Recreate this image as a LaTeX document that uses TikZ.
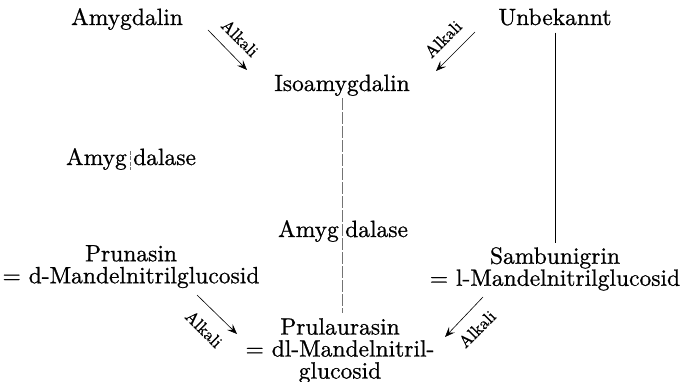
\documentclass[tikz,border=0pt]{standalone}
\usepackage{fontspec}
\newfontfamily\heavy{lmroman10-regular.otf}[FakeBold=0.8]
\usetikzlibrary{arrows.meta}
\begin{document}
\begin{tikzpicture}[x=1pt,y=-1pt,
  txt/.style={inner sep=0pt, font=\heavy\fontsize{23.5}{22}\selectfont},
  alk/.style={inner sep=0pt, font=\heavy\fontsize{17}{18}\selectfont},
  rx/.style={line width=0.6pt, -{Stealth[length=10pt,width=8pt,inset=4pt]}},
  link/.style={line width=0.6pt},
  faint/.style={line width=0.5pt, black!55, dash pattern=on 12pt off 2pt}]
\useasboundingbox (0,0) rectangle (680,382);

% substances
\node[txt,anchor=base] (amy) at (127,25) {Amygdalin};
\node[txt,anchor=base] (unb) at (555,25) {Unbekannt};
\node[txt,anchor=base] (iso) at (342,91) {Isoamygdalin};
\node[txt,anchor=base east] (e1a) at (127,165) {Amyg};
\node[txt,anchor=base west] (e1b) at (133,165) {dalase};
\node[txt,anchor=base east] (e2a) at (339,237) {Amyg};
\node[txt,anchor=base west] (e2b) at (345,237) {dalase};
\node[txt,anchor=north,align=center] (pru) at (131,245) {Prunasin\\= d-Mandelnitrilglucosid};
\node[txt,anchor=north,align=center] (sam) at (555,247) {Sambunigrin\\= l-Mandelnitrilglucosid};
\node[txt,anchor=north,align=center] (prl) at (340,318) {Prulaurasin\\= dl-Mandelnitril-\\glucosid};

% reaction arrows
\coordinate (a1s) at (208,30);  \coordinate (a1e) at (247,70);
\coordinate (a2s) at (475,32);  \coordinate (a2e) at (436,71);
\coordinate (a3s) at (197,295); \coordinate (a3e) at (237,334);
\coordinate (a4s) at (483,297); \coordinate (a4e) at (445,337);
\draw[rx] (a1s) -- (a1e);
\draw[rx] (a2s) -- (a2e);
\draw[rx] (a3s) -- (a3e);
\draw[rx] (a4s) -- (a4e);
\node[alk,rotate=-45] (k1) at (240,38) {Alkali};
\node[alk,rotate=45]  (k2) at (443,39) {Alkali};
\node[alk,rotate=-45] (k3) at (204,329) {Alkali};
\node[alk,rotate=45]  (k4) at (477,329) {Alkali};

% enzyme lines
\coordinate (t1a) at (130,151); \coordinate (t1b) at (130,170);
\draw[faint, dash pattern=on 4pt off 1.5pt] (t1a) -- (t1b);
\draw[faint, shorten <=2pt, shorten >=5pt] (iso.south) -- (iso.south |- prl.north);
\draw[link, shorten <=7pt, shorten >=4pt] (unb.south) -- (unb.south |- sam.north);
\end{tikzpicture}
\end{document}
